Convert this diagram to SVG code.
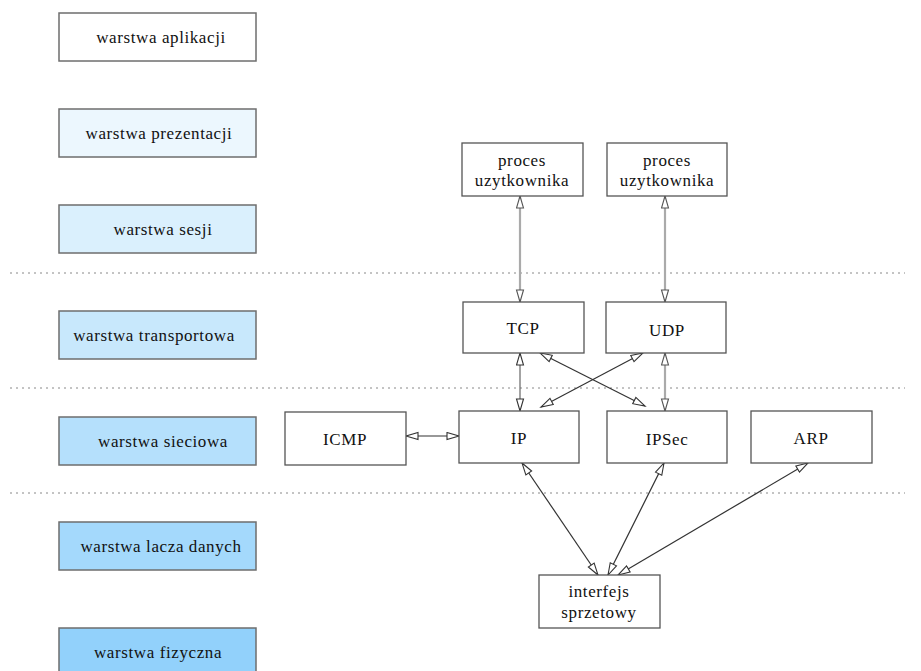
<svg xmlns="http://www.w3.org/2000/svg" width="921" height="671" viewBox="0 0 921 671">
<style>
.lay{stroke:#6e6e6e;stroke-width:1.5}
.nd{fill:#fff;stroke:#555;stroke-width:1.3}
.t{font-family:'Liberation Serif','Times New Roman',serif;font-size:17px;letter-spacing:0.6px;fill:#111;text-anchor:middle}
.dot{stroke:#888;stroke-width:1;stroke-dasharray:2,4;fill:none}
.c{stroke:#333;stroke-width:1.2;fill:none;marker-start:url(#ah);marker-end:url(#ah)}
.g{stroke:#aaa;stroke-width:2.2;fill:none;marker-start:url(#ahg);marker-end:url(#ahg)}
</style>
<defs>
<marker id="ah" markerUnits="userSpaceOnUse" markerWidth="16" markerHeight="10" refX="13" refY="4.5" orient="auto-start-reverse" viewBox="0 0 16 10"><path d="M1,1 L13,4.5 L1,8 z" fill="#fff" stroke="#333" stroke-width="1.1"/></marker>
<marker id="ahg" markerUnits="userSpaceOnUse" markerWidth="16" markerHeight="10" refX="13" refY="4.5" orient="auto-start-reverse" viewBox="0 0 16 10"><path d="M1,1 L13,4.5 L1,8 z" fill="#fff" stroke="#555" stroke-width="1.1"/></marker>
</defs>
<rect width="921" height="671" fill="#fff"/>
<g id="separators">
<line class="dot" x1="10" y1="273" x2="905" y2="273"/>
<line class="dot" x1="10" y1="388" x2="905" y2="388"/>
<line class="dot" x1="10" y1="493" x2="905" y2="493"/>
</g>
<g id="layer-aplikacji"><rect class="lay" x="59" y="13" width="197" height="48" fill="#ffffff"/><text class="t" x="161" y="43">warstwa aplikacji</text></g>
<g id="layer-prezentacji"><rect class="lay" x="59" y="109" width="197" height="48" fill="#ecf7fe"/><text class="t" x="159" y="139">warstwa prezentacji</text></g>
<g id="layer-sesji"><rect class="lay" x="59" y="205" width="197" height="48" fill="#daf0fd"/><text class="t" x="163" y="235">warstwa sesji</text></g>
<g id="layer-transportowa"><rect class="lay" x="59" y="311" width="197" height="48" fill="#c8e8fc"/><text class="t" x="154" y="341">warstwa transportowa</text></g>
<g id="layer-sieciowa"><rect class="lay" x="59" y="417" width="197" height="48" fill="#b5e0fc"/><text class="t" x="163" y="447">warstwa sieciowa</text></g>
<g id="layer-lacza"><rect class="lay" x="59" y="522" width="197" height="48" fill="#a4d9fc"/><text class="t" x="161" y="552">warstwa lacza danych</text></g>
<g id="layer-fizyczna"><rect class="lay" x="59" y="628" width="197" height="48" fill="#92d1fb"/><text class="t" x="158" y="658">warstwa fizyczna</text></g>

<g id="connectors">
<line class="g" x1="520" y1="196" x2="520" y2="302"/>
<line class="g" x1="665" y1="196" x2="665" y2="302"/>
<line class="c" x1="520" y1="353" x2="520" y2="411" style="stroke:#666"/>
<line class="g" x1="665" y1="353" x2="665" y2="411"/>
<line class="c" x1="540" y1="353" x2="645" y2="406"/>
<line class="c" x1="643" y1="353" x2="541" y2="407"/>
<line class="c" x1="406" y1="436" x2="459" y2="436"/>
<line class="c" x1="522" y1="463" x2="598" y2="575"/>
<line class="c" x1="664" y1="463" x2="608" y2="575"/>
<line class="c" x1="808" y1="463" x2="618" y2="575"/>
</g>

<g id="proces1"><rect class="nd" x="462" y="143" width="121" height="53"/><text class="t" x="522" y="166">proces</text><text class="t" x="522" y="186">uzytkownika</text></g>
<g id="proces2"><rect class="nd" x="607" y="143" width="120" height="53"/><text class="t" x="667" y="166">proces</text><text class="t" x="667" y="186">uzytkownika</text></g>
<g id="tcp"><rect class="nd" x="463" y="302" width="121" height="51"/><text class="t" x="523" y="334">TCP</text></g>
<g id="udp"><rect class="nd" x="606" y="302" width="120" height="51"/><text class="t" x="667" y="336">UDP</text></g>
<g id="icmp"><rect class="nd" x="285" y="412" width="121" height="53"/><text class="t" x="345" y="445">ICMP</text></g>
<g id="ip"><rect class="nd" x="459" y="411" width="120" height="52"/><text class="t" x="519" y="444">IP</text></g>
<g id="ipsec"><rect class="nd" x="607" y="411" width="120" height="52"/><text class="t" x="667" y="445">IPSec</text></g>
<g id="arp"><rect class="nd" x="751" y="411" width="121" height="52"/><text class="t" x="811" y="444">ARP</text></g>
<g id="interfejs"><rect class="nd" x="539" y="575" width="121" height="53"/><text class="t" x="599" y="597">interfejs</text><text class="t" x="599" y="618">sprzetowy</text></g>
</svg>
